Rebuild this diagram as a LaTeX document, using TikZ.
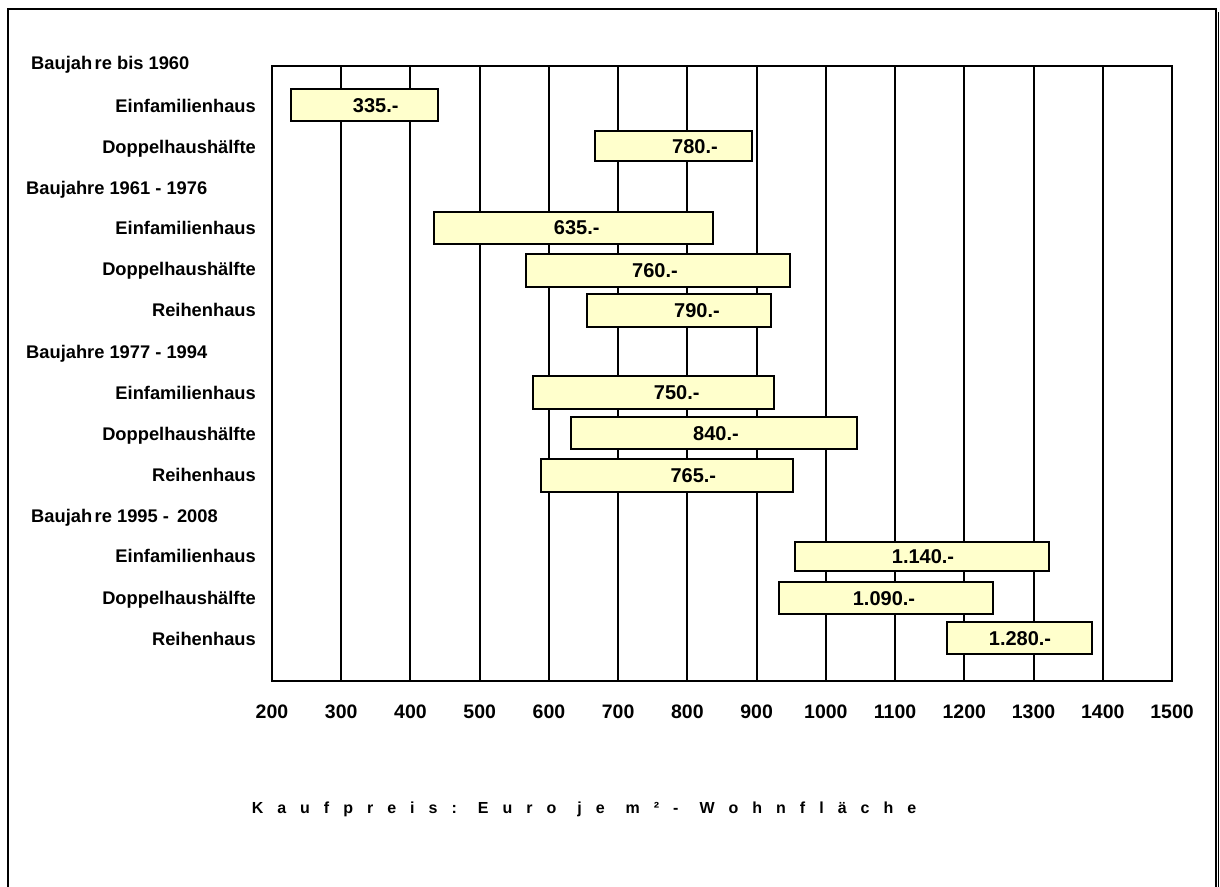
\documentclass[tikz,border=0pt]{standalone}
\usepackage{fontspec}
\setmainfont{Liberation Sans}
\definecolor{barfill}{HTML}{FFFFCC}
\newcommand\ltrgap{\hspace{14pt}}
\newcommand\wrdgap{\hspace{21pt}}
\begin{document}
\begin{tikzpicture}[x=1pt,y=-1pt,
  outer/.style={draw=black,line width=2.2pt},
  plotframe/.style={draw=black,line width=2.2pt},
  gridline/.style={draw=black,line width=2pt},
  bar/.style={draw=black,line width=2pt,fill=barfill,inner sep=0pt,outer sep=0pt},
  val/.style={font=\bfseries\fontsize{20}{20}\selectfont,inner sep=0pt,anchor=base,yshift=-7.2pt},
  cat/.style={font=\bfseries\fontsize{18.3}{18.3}\selectfont,inner sep=0pt,anchor=base east,yshift=-6.5pt},
  grp/.style={font=\bfseries\fontsize{18.3}{18.3}\selectfont,inner sep=0pt,anchor=base west,yshift=-6.5pt},
  tick/.style={font=\bfseries\fontsize{19.5}{19.5}\selectfont,inner sep=0pt,anchor=base,yshift=-7pt},
  axtitle/.style={font=\bfseries\fontsize{16}{16}\selectfont,inner sep=0pt,anchor=base,yshift=-5.7pt}]
\useasboundingbox (0,0) rectangle (1220,886);
% outer frame (open at bottom, continues past the page)
\begin{scope}
\clip (0,0) rectangle (1220,886);
\draw[outer] (8,900) -- (8,9) -- (1216,9) -- (1216,900);
\draw[draw=black,line width=1.6pt] (1218.5,12) -- (1218.5,900);
\end{scope}
% grid lines
\foreach \i in {1,...,12}{
  \draw[gridline] ({272+\i*900/13},66) -- ({272+\i*900/13},681);
}
\node[draw=none,inner sep=0pt,outer sep=0pt,minimum width=900pt,minimum height=615pt,anchor=north west] (plot) at (272,66) {};
\draw[plotframe] (plot.north west) rectangle (plot.south east);
% tick labels
\foreach \i/\v in {0/200,1/300,2/400,3/500,4/600,5/700,6/800,7/900,8/1000,9/1100,10/1200,11/1300,12/1400,13/1500}{
  \node[tick] (t\v) at ({272+\i*900/13},711.7) {\v};
}
% group headers
\node[grp] (g1) at (31,63) {Baujah\hspace{2.5pt}re bis 1960};
\node[grp] (g2) at (26,188) {Baujahre 1961 - 1976};
\node[grp] (g3) at (26,351.5) {Baujahre 1977 - 1994};
\node[grp] (g4) at (31,515.5) {Baujah\hspace{2.5pt}re 1995 - \hspace{3pt}2008};
% categories
\node[cat] (c1) at (256,106) {Einfamilienhaus};
\node[cat] (c2) at (256,147) {Doppelhaushälfte};
\node[cat] (c3) at (256,228) {Einfamilienhaus};
\node[cat] (c4) at (256,269) {Doppelhaushälfte};
\node[cat] (c5) at (256,310) {Reihenhaus};
\node[cat] (c6) at (256,393) {Einfamilienhaus};
\node[cat] (c7) at (256,434) {Doppelhaushälfte};
\node[cat] (c8) at (256,475) {Reihenhaus};
\node[cat] (c9) at (256,556) {Einfamilienhaus};
\node[cat] (c10) at (256,598) {Doppelhaushälfte};
\node[cat] (c11) at (256,638.5) {Reihenhaus};
% bars
\node[bar,minimum width=147pt,minimum height=32pt] (b1) at (364.2,105.3) {};
\node[bar,minimum width=157.6pt,minimum height=30pt] (b2) at (673.5,146.2) {};
\node[bar,minimum width=278.4pt,minimum height=32pt] (b3) at (573.5,227.7) {};
\node[bar,minimum width=264.6pt,minimum height=32.5pt] (b4) at (658,270.3) {};
\node[bar,minimum width=184.3pt,minimum height=32.5pt] (b5) at (678.8,310.3) {};
\node[bar,minimum width=241pt,minimum height=33pt] (b6) at (653.8,392.7) {};
\node[bar,minimum width=286pt,minimum height=32.5pt] (b7) at (713.7,433) {};
\node[bar,minimum width=251.4pt,minimum height=32.5pt] (b8) at (667,475.3) {};
\node[bar,minimum width=254pt,minimum height=29.5pt] (b9) at (922,556.7) {};
\node[bar,minimum width=214pt,minimum height=32.5pt] (b10) at (885.7,598) {};
\node[bar,minimum width=145pt,minimum height=32.3pt] (b11) at (1019.2,638.2) {};
% values
\node[val] (v1) at (375.7,105.3) {335.-};
\node[val] (v2) at (695,146.2) {780.-};
\node[val] (v3) at (576.7,227.7) {635.-};
\node[val] (v4) at (655,270.3) {760.-};
\node[val] (v5) at (697,310.3) {790.-};
\node[val] (v6) at (676.7,392.7) {750.-};
\node[val] (v7) at (716,433) {840.-};
\node[val] (v8) at (693.3,475.3) {765.-};
\node[val] (v9) at (923,556.7) {1.140.-};
\node[val] (v10) at (884,598) {1.090.-};
\node[val] (v11) at (1020,638.2) {1.280.-};
% axis title
\node[axtitle] (title) at (584,808) {K\ltrgap a\ltrgap u\ltrgap f\ltrgap p\ltrgap r\ltrgap e\ltrgap i\ltrgap s\ltrgap :\wrdgap E\ltrgap u\ltrgap r\ltrgap o\wrdgap j\ltrgap e\wrdgap m\ltrgap ²\ltrgap -\wrdgap W\ltrgap o\ltrgap h\ltrgap n\ltrgap f\ltrgap l\ltrgap ä\ltrgap c\ltrgap h\ltrgap e};
\end{tikzpicture}
\end{document}
